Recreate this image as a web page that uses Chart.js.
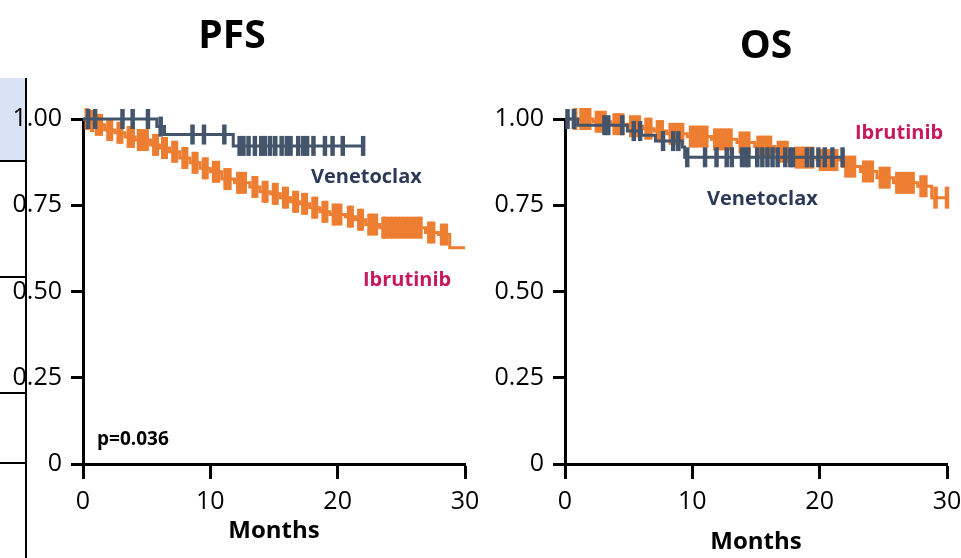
<!DOCTYPE html>
<html>
<head>
<meta charset="utf-8">
<script src="https://cdn.jsdelivr.net/npm/chart.js@4.4.1/dist/chart.umd.min.js"></script>
<style>
  html, body { margin: 0; padding: 0; background: #fff; overflow: hidden; }
  body { width: 961px; height: 558px; position: relative; font-family: 'Open Sans', sans-serif; }
  canvas { position: absolute; top: 0; }
  .lbl { position: absolute; font-weight: bold; white-space: nowrap; }
  .bar { position: absolute; background: #000; }
</style>
</head>
<body>
<!-- remains of the slide table on the left edge -->
<div style="position:absolute;left:0;top:78px;width:25px;height:83px;background:#DAE3F3"></div>
<div class="bar" style="left:25px;top:78px;width:2px;height:480px"></div>
<div class="bar" style="left:0;top:160px;width:26px;height:2px"></div>
<div class="bar" style="left:0;top:276px;width:26px;height:2px"></div>
<div class="bar" style="left:0;top:392px;width:26px;height:2px"></div>
<div class="bar" style="left:0;top:462px;width:26px;height:2px"></div>

<canvas id="pfsChart" width="490" height="558" style="left:0"></canvas>
<canvas id="osChart" width="500" height="558" style="left:490px"></canvas>

<div class="lbl" style="left:182px;width:100px;text-align:center;top:11px;font-size:39px;line-height:44px;color:#000">PFS</div>
<div class="lbl" style="left:716px;width:100px;text-align:center;top:21px;font-size:39px;line-height:44px;color:#000">OS</div>
<div class="lbl" style="left:311px;top:164px;font-size:20px;line-height:24px;color:#2B3A57">Venetoclax</div>
<div class="lbl" style="left:363px;top:267px;font-size:20px;line-height:24px;color:#C7195E">Ibrutinib</div>
<div class="lbl" style="left:97px;top:426px;font-size:19px;line-height:24px;color:#000">p=0.036</div>
<div class="lbl" style="left:707px;top:186px;font-size:20px;line-height:24px;color:#2B3A57">Venetoclax</div>
<div class="lbl" style="left:855px;top:120px;font-size:20px;line-height:24px;color:#C7195E">Ibrutinib</div>

<script>
// axis ticks
const xTicks = [0, 10, 20, 30];
const yTicks = [0, 0.25, 0.5, 0.75, 1.0];
const yTickLabels = ['0', '0.25', '0.50', '0.75', '1.00'];

// PFS - Venetoclax (event times / survival after each step)
const pfsVenTime = [0, 5.8, 6.4, 11.8, 22.0];
const pfsVenSurv = [1.0, 0.978, 0.955, 0.922, 0.922];
const pfsVenCensor = [0.4, 0.95, 3.1, 3.9, 5.1, 6.1, 8.6, 9.5, 11.1, 12.3, 12.6, 13.0, 13.5, 14.0, 14.3,
    14.7, 15.1, 15.6, 16.0, 16.3, 16.9, 17.3, 17.6, 18.1, 19.0, 19.6, 20.4, 22.0];

// PFS - Ibrutinib
const pfsIbrTime = [0, 0.55, 0.95, 1.7, 2.5, 3.3, 4.1, 5.3, 6.0, 6.8, 7.6, 8.4, 9.2, 10.0, 10.9, 11.9, 13.1,
    13.9, 14.7, 15.5, 16.3, 17.0, 17.8, 18.6, 19.4, 20.6, 21.4, 22.2, 23.3, 26.9, 27.9, 28.8, 30.0];
const pfsIbrSurv = [1.0, 0.994, 0.983, 0.968, 0.960, 0.948, 0.939, 0.925, 0.916, 0.905, 0.887, 0.873, 0.857,
    0.847, 0.826, 0.815, 0.803, 0.789, 0.783, 0.772, 0.760, 0.754, 0.743, 0.731, 0.723, 0.717, 0.708, 0.694,
    0.685, 0.671, 0.665, 0.627, 0.627];
const pfsIbrCensor = [0.3, 0.7, 1.1, 1.4, 2.0, 2.2, 2.8, 3.0, 3.6, 3.9, 4.4, 4.7, 5.0, 5.6, 5.8, 6.3, 6.5, 7.1,
    7.3, 7.9, 8.1, 8.7, 8.9, 9.5, 9.7, 10.3, 10.6, 11.2, 11.5, 12.2, 12.4, 12.7, 13.4, 13.6, 14.2, 14.4, 15.0,
    15.2, 15.8, 16.0, 16.6, 16.8, 17.3, 17.5, 18.1, 18.3, 18.9, 19.1, 19.7, 19.9, 20.2, 20.9, 21.1, 21.7, 21.9,
    22.5, 22.7, 23.0, 23.6, 23.8, 24.1, 24.4, 24.7, 25.0, 25.3, 25.6, 25.9, 26.2, 26.5, 27.2, 27.5, 28.2, 28.5];

// OS - Venetoclax
const osVenTime = [0, 1.0, 4.9, 6.0, 7.1, 9.2, 9.4, 21.8];
const osVenSurv = [1.0, 0.982, 0.965, 0.953, 0.936, 0.919, 0.889, 0.889];
const osVenCensor = [0.2, 0.7, 3.1, 3.4, 4.5, 5.4, 5.9, 7.7, 8.5, 8.9, 9.6, 11.0, 11.9, 12.7, 13.1, 13.9,
    14.2, 14.4, 15.1, 15.5, 15.9, 16.3, 16.7, 17.3, 17.7, 17.9, 19.0, 19.4, 19.9, 20.4, 21.0, 21.8];

// OS - Ibrutinib
const osIbrTime = [0, 2.2, 3.6, 4.9, 6.1, 7.0, 8.0, 9.6, 11.5, 13.5, 14.9, 16.5, 17.9, 19.8, 21.8, 23.2, 24.5,
    25.8, 27.7, 28.8, 30.0];
const osIbrSurv = [1.0, 0.992, 0.985, 0.979, 0.972, 0.965, 0.957, 0.949, 0.941, 0.932, 0.920, 0.905, 0.888,
    0.881, 0.862, 0.848, 0.830, 0.815, 0.805, 0.772, 0.772];
const osIbrCensor = [0.8, 1.3, 1.6, 1.9, 2.5, 2.8, 3.1, 3.9, 4.2, 4.5, 5.2, 5.5, 5.8, 6.4, 6.7, 7.3, 7.6, 8.3,
    8.6, 8.9, 9.2, 9.9, 10.2, 10.5, 10.8, 11.1, 11.8, 12.1, 12.4, 12.7, 13.0, 13.8, 14.1, 14.4, 15.2, 15.5, 15.8,
    16.1, 16.8, 17.1, 17.4, 18.2, 18.5, 18.8, 19.1, 19.4, 20.1, 20.4, 20.7, 21.0, 21.3, 22.1, 22.4, 22.7, 23.5,
    23.8, 24.1, 24.8, 25.1, 25.4, 26.1, 26.4, 26.7, 27.0, 27.3, 28.0, 28.3, 29.1, 30.0];

const venColor = '#44546A';
const ibrColor = '#ED7D31';

function survAt(times, surv, t) {
    let s = surv[0];
    for (let i = 0; i < times.length; i++) {
        if (times[i] <= t) s = surv[i];
    }
    return s;
}

function kmDatasets(times, surv, censor, color, tickSize) {
    return [{
        type: 'line',
        data: times.map((t, i) => ({ x: t, y: surv[i] })),
        borderColor: color,
        borderWidth: 3,
        stepped: true,
        pointRadius: 0,
        fill: false,
        clip: false
    }, {
        type: 'scatter',
        data: censor.map(t => ({ x: t, y: survAt(times, surv, t) })),
        pointStyle: 'line',
        rotation: 90,
        radius: tickSize,
        borderColor: color,
        borderWidth: 4.5,
        clip: false
    }];
}

function makeOptions(yWidth, xHeight, pad) {
    const tickFont = { family: 'Open Sans', size: 25 };
    return {
        responsive: false,
        animation: false,
        events: [],
        layout: { padding: pad },
        plugins: { legend: { display: false }, tooltip: { enabled: false } },
        scales: {
            x: {
                type: 'linear', min: 0, max: 30,
                afterBuildTicks: s => { s.ticks = xTicks.map(v => ({ value: v })); },
                afterFit: s => { s.height = xHeight; },
                border: { display: true, color: '#000', width: 3 },
                grid: { drawOnChartArea: false, drawTicks: true, tickLength: 15, tickWidth: 3, tickColor: '#000' },
                ticks: { color: '#000', font: tickFont, padding: 8, maxRotation: 0, callback: v => String(v) },
                title: {
                    display: true, text: 'Months', color: '#000', padding: 0,
                    font: { family: 'Open Sans', size: 24, weight: 'bold' }
                }
            },
            y: {
                type: 'linear', min: 0, max: 1,
                afterBuildTicks: s => { s.ticks = yTicks.map(v => ({ value: v })); },
                afterFit: s => { s.width = yWidth; },
                border: { display: true, color: '#000', width: 3 },
                grid: { drawOnChartArea: false, drawTicks: true, tickLength: 12, tickWidth: 3, tickColor: '#000' },
                ticks: { color: '#000', font: tickFont, padding: 9, callback: (v, i) => yTickLabels[i] }
            }
        }
    };
}

new Chart(document.getElementById('pfsChart'), {
    data: {
        datasets: [
            ...kmDatasets(pfsVenTime, pfsVenSurv, pfsVenCensor, venColor, 10),
            ...kmDatasets(pfsIbrTime, pfsIbrSurv, pfsIbrCensor, ibrColor, 11)
        ]
    },
    options: makeOptions(83, 82, { left: 0, top: 119, right: 25, bottom: 12 })
});

new Chart(document.getElementById('osChart'), {
    data: {
        datasets: [
            ...kmDatasets(osVenTime, osVenSurv, osVenCensor, venColor, 10),
            ...kmDatasets(osIbrTime, osIbrSurv, osIbrCensor, ibrColor, 11)
        ]
    },
    options: makeOptions(75, 93, { left: 0, top: 119, right: 43, bottom: 1 })
});
</script>
</body>
</html>
